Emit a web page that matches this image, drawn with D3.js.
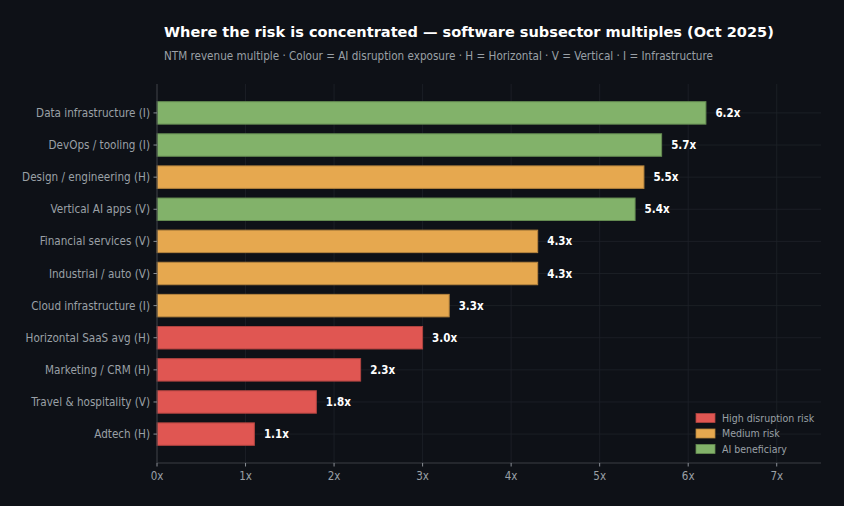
<!DOCTYPE html>
<html><head><meta charset="utf-8">
<script src="https://cdn.jsdelivr.net/npm/d3@7/dist/d3.min.js"></script>
<style>
html,body{margin:0;padding:0;background:#0e1117;}
svg{display:block;font-family:"DejaVu Sans",sans-serif;}
.cd{font-family:"DejaVu Sans Condensed","DejaVu Sans",sans-serif;font-stretch:condensed;}
</style></head><body>
<svg id="c" width="844" height="506"></svg>
<script>
const categories = ["Data infrastructure (I)","DevOps / tooling (I)","Design / engineering (H)","Vertical AI apps (V)","Financial services (V)","Industrial / auto (V)","Cloud infrastructure (I)","Horizontal SaaS avg (H)","Marketing / CRM (H)","Travel & hospitality (V)","Adtech (H)"];
const values = [6.2,5.7,5.5,5.4,4.3,4.3,3.3,3.0,2.3,1.8,1.1];
const risk = ["ai","ai","med","ai","med","med","med","high","high","high","high"];
const xTicks = [0,1,2,3,4,5,6,7];
const legendKeys = ["high","med","ai"];
const legendLabels = ["High disruption risk","Medium risk","AI beneficiary"];

const fill = {high:"#e05652", med:"#e6a84f", ai:"#82b26a"};
const edge = {high:"#b04440", med:"#b5843e", ai:"#658c52"};

const svg = d3.select("#c");
const L=157, R=821, T=84, B=463;
const x = d3.scaleLinear().domain([0,7.5]).range([L,R]);
const y = d3.scaleLinear().domain([-0.9,10.9]).range([T,B]);
const bh = y(0.7)-y(0);

svg.append("rect").attr("width",844).attr("height",506).attr("fill","#0e1117");

// grid
const g = svg.append("g");
g.selectAll(".vg").data(xTicks).join("line")
 .attr("x1",d=>x(d)).attr("x2",d=>x(d)).attr("y1",T).attr("y2",B)
 .attr("stroke","#1e2228").attr("stroke-width",0.8);
g.selectAll(".hg").data(categories).join("line")
 .attr("x1",L).attr("x2",R).attr("y1",(d,i)=>y(i)).attr("y2",(d,i)=>y(i))
 .attr("stroke","#1e2228").attr("stroke-width",0.8);

// bars
svg.selectAll(".bar").data(values).join("rect")
 .attr("x",x(0)).attr("y",(d,i)=>y(i)-bh/2)
 .attr("width",d=>x(d)-x(0)).attr("height",bh)
 .attr("fill",(d,i)=>fill[risk[i]]).attr("stroke",(d,i)=>edge[risk[i]]).attr("stroke-width",1);

svg.selectAll(".val").data(values).join("text").attr("class","cd")
 .attr("x",d=>x(d)+9.5).attr("y",(d,i)=>y(i)).attr("dy","0.35em")
 .attr("fill","#ffffff").attr("font-size",11.5).attr("font-weight","bold")
 .text(d=>d.toFixed(1)+"x");

// axes
const ax = svg.append("g");
ax.append("line").attr("x1",L).attr("x2",L).attr("y1",T).attr("y2",B).attr("stroke","#3a3e44").attr("stroke-width",1);
ax.append("line").attr("x1",L).attr("x2",R).attr("y1",B).attr("y2",B).attr("stroke","#3a3e44").attr("stroke-width",1);
ax.selectAll(".xt").data(xTicks).join("line")
 .attr("x1",d=>x(d)).attr("x2",d=>x(d)).attr("y1",B).attr("y2",B+3.5).attr("stroke","#8a8f96");
ax.selectAll(".xl").data(xTicks).join("text").attr("class","cd")
 .attr("x",d=>x(d)).attr("y",B+17).attr("text-anchor","middle")
 .attr("fill","#9aa0a6").attr("font-size",11.5).text(d=>d+"x");
ax.selectAll(".yt").data(categories).join("line")
 .attr("x1",L-3.5).attr("x2",L).attr("y1",(d,i)=>y(i)).attr("y2",(d,i)=>y(i)).attr("stroke","#8a8f96");
ax.selectAll(".yl").data(categories).join("text").attr("class","cd")
 .attr("x",L-7).attr("y",(d,i)=>y(i)).attr("dy","0.35em").attr("text-anchor","end")
 .attr("fill","#9aa0a6").attr("font-size",11.6).text(d=>d);

// title
svg.append("text").attr("x",164).attr("y",37).attr("fill","#ffffff")
 .attr("font-size",14.55).attr("font-weight","bold")
 .text("Where the risk is concentrated — software subsector multiples (Oct 2025)");
svg.append("text").attr("class","cd").attr("x",164).attr("y",60).attr("fill","#9aa0a6")
 .attr("font-size",11.6)
 .text("NTM revenue multiple · Colour = AI disruption exposure · H = Horizontal · V = Vertical · I = Infrastructure");

// legend
const lg = svg.append("g");
legendKeys.forEach((k,i)=>{
  const yy = 418 + i*15.5;
  lg.append("rect").attr("x",696).attr("y",yy-4.5).attr("width",19).attr("height",9)
   .attr("fill",fill[k]).attr("stroke",edge[k]).attr("stroke-width",0.8);
  lg.append("text").attr("class","cd").attr("x",722).attr("y",yy).attr("dy","0.35em")
   .attr("fill","#9aa0a6").attr("font-size",10.5).text(legendLabels[i]);
});
</script>
</body></html>
